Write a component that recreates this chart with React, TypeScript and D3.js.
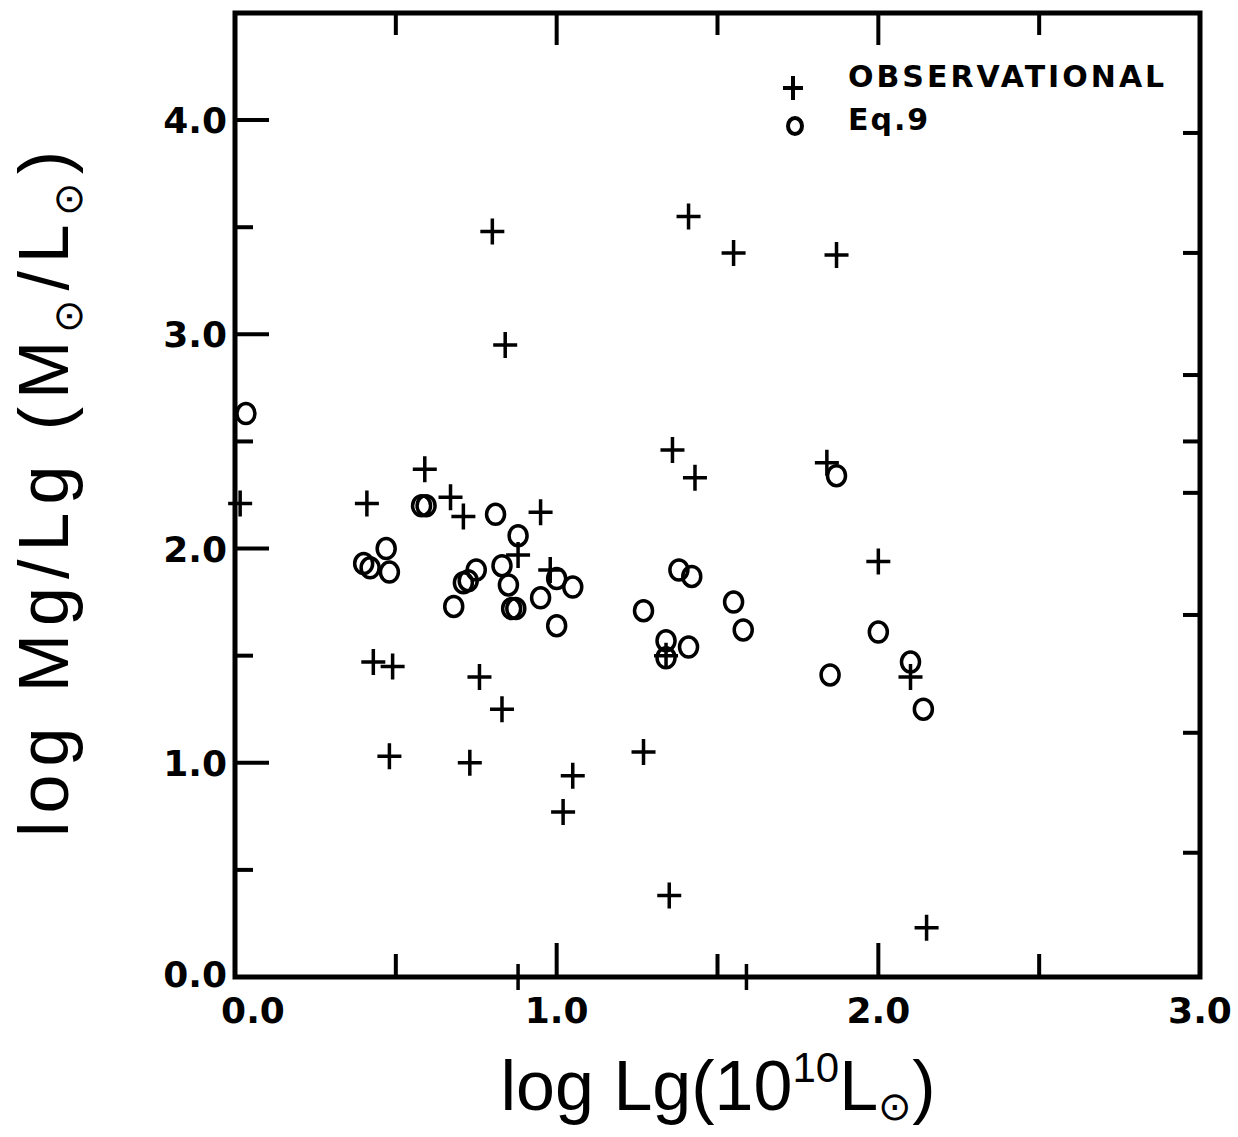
import React from "react";
import * as d3 from "d3";

// Observational points (log Lg, log Mg/Lg)
const obsX = [0.016, 0.41, 0.59, 0.67, 0.71, 0.95, 0.88, 0.98, 0.43, 0.49, 0.76, 0.83, 0.48, 0.73, 1.05, 1.02, 1.27, 1.35, 0.80, 0.84, 1.41, 1.55, 1.87, 1.36, 1.43, 1.84, 2.0, 1.34, 2.1, 2.15, 0.88, 1.59];
const obsY = [2.21, 2.21, 2.37, 2.24, 2.15, 2.17, 1.97, 1.9, 1.47, 1.45, 1.4, 1.25, 1.03, 1.0, 0.94, 0.77, 1.05, 0.38, 3.48, 2.95, 3.55, 3.38, 3.37, 2.46, 2.33, 2.4, 1.94, 1.5, 1.4, 0.23, 0.0, 0.0];

// Eq. 9 points
const eqX = [0.034, 0.58, 0.594, 0.4, 0.42, 0.47, 0.48, 0.81, 0.88, 0.75, 0.71, 0.725, 0.83, 0.85, 0.86, 0.873, 0.68, 0.95, 1.0, 1.05, 1.0, 1.27, 1.38, 1.42, 1.34, 1.41, 1.55, 1.58, 2.0, 1.85, 2.1, 2.14, 1.87, 1.34];
const eqY = [2.63, 2.2, 2.2, 1.93, 1.91, 2.0, 1.89, 2.16, 2.06, 1.9, 1.84, 1.85, 1.92, 1.83, 1.72, 1.72, 1.73, 1.77, 1.86, 1.82, 1.64, 1.71, 1.9, 1.87, 1.57, 1.54, 1.75, 1.62, 1.61, 1.41, 1.47, 1.25, 2.34, 1.49];

const xMajor = [0, 1, 2, 3];
const xMajorLabels = ["0.0", "1.0", "2.0", "3.0"];
const xMinor = [0.5, 1.5, 2.5];
const yMajor = [0, 1, 2, 3, 4];
const yMajorLabels = ["0.0", "1.0", "2.0", "3.0", "4.0"];
const yMinor = [0.5, 1.5, 2.5, 3.5];
const rightTicks = [0.58, 1.14, 1.69, 2.26, 2.5, 2.81, 3.38, 3.94];

const legendLabels = ["OBSERVATIONAL", "Eq.9"];

export default function App() {
  const x = d3.scaleLinear().domain([0, 3]).range([235, 1200]);
  const y = d3.scaleLinear().domain([0, 4.5]).range([977, 13]);
  const x0 = x(0), x1 = x(3), y0 = y(0), y1 = y(4.5);
  const plus = (cx: number, cy: number, h = 12, v = 13) =>
    `M${cx - h},${cy}H${cx + h}M${cx},${cy - v}V${cy + v}`;
  const tickFont = "'DejaVu Sans', sans-serif";
  const labelFont = "'Liberation Sans', Arial, sans-serif";

  return (
    <svg
      width={1238}
      height={1137}
      style={{ position: "absolute", left: 0, top: 0, background: "#fff" }}
    >
      <rect x={0} y={0} width={1238} height={1137} fill="#fff" />
      {/* frame */}
      <rect x={x0} y={y1} width={x1 - x0} height={y0 - y1} fill="none" stroke="#000" strokeWidth={5} />

      {/* bottom ticks */}
      {xMajor.slice(1, 3).map((v) => (
        <line key={"bx" + v} x1={x(v)} x2={x(v)} y1={y0} y2={y0 - 34} stroke="#000" strokeWidth={4} />
      ))}
      {xMinor.map((v) => (
        <line key={"bxm" + v} x1={x(v)} x2={x(v)} y1={y0} y2={y0 - 23} stroke="#000" strokeWidth={4} />
      ))}
      {/* top ticks */}
      {xMajor.slice(1, 3).map((v) => (
        <line key={"tx" + v} x1={x(v)} x2={x(v)} y1={y1} y2={y1 + 32} stroke="#000" strokeWidth={4} />
      ))}
      {xMinor.map((v) => (
        <line key={"txm" + v} x1={x(v)} x2={x(v)} y1={y1} y2={y1 + 22} stroke="#000" strokeWidth={4} />
      ))}
      {/* left ticks */}
      {yMajor.slice(1).map((v) => (
        <line key={"ly" + v} x1={x0} x2={x0 + 34} y1={y(v)} y2={y(v)} stroke="#000" strokeWidth={4} />
      ))}
      {yMinor.map((v) => (
        <line key={"lym" + v} x1={x0} x2={x0 + 18} y1={y(v)} y2={y(v)} stroke="#000" strokeWidth={4} />
      ))}
      {/* right ticks */}
      {rightTicks.map((v) => (
        <line key={"ry" + v} x1={x1} x2={x1 - 17} y1={y(v)} y2={y(v)} stroke="#000" strokeWidth={4} />
      ))}

      {/* tick labels */}
      {yMajor.map((v, i) => (
        <text
          key={"yl" + v}
          x={227}
          y={y(v) + (v === 0 ? 10 : 13)}
          textAnchor="end"
          fontFamily={tickFont}
          fontWeight="bold"
          fontSize={36}
        >
          {yMajorLabels[i]}
        </text>
      ))}
      {xMajor.map((v, i) => (
        <text
          key={"xl" + v}
          x={x(v) + (v === 0 ? 18 : 0)}
          y={1023}
          textAnchor="middle"
          fontFamily={tickFont}
          fontWeight="bold"
          fontSize={36}
        >
          {xMajorLabels[i]}
        </text>
      ))}

      {/* axis titles */}
      <text
        transform={`translate(68, 490) rotate(-90)`}
        textAnchor="middle"
        fontFamily={labelFont}
        fontSize={70}
        letterSpacing={8}
      >
        log Mg/Lg (M<tspan fontSize={40} dy={14}>⊙</tspan>
        <tspan dy={-14}>/L</tspan>
        <tspan fontSize={40} dy={14}>⊙</tspan>
        <tspan dy={-14}>)</tspan>
      </text>
      <text
        x={718}
        y={1110}
        textAnchor="middle"
        fontFamily={labelFont}
        fontSize={70}
      >
        log Lg(10<tspan fontSize={42} dy={-28}>10</tspan>
        <tspan dy={28}>L</tspan>
        <tspan fontSize={40} dy={10}>⊙</tspan>
        <tspan dy={-10}>)</tspan>
      </text>

      {/* legend */}
      <path d={plus(793, 88, 10, 12)} stroke="#000" strokeWidth={4} fill="none" />
      <ellipse cx={795} cy={126} rx={7} ry={8} fill="none" stroke="#000" strokeWidth={4} />
      <text x={848} y={87} fontFamily={tickFont} fontWeight="bold" fontSize={30} letterSpacing={3}>
        {legendLabels[0]}
      </text>
      <text x={848} y={130} fontFamily={tickFont} fontWeight="bold" fontSize={30} letterSpacing={2}>
        {legendLabels[1]}
      </text>

      {/* Eq.9 circles */}
      {eqX.map((v, i) => (
        <ellipse
          key={"e" + i}
          cx={x(v)}
          cy={y(eqY[i])}
          rx={9}
          ry={10}
          fill="none"
          stroke="#000"
          strokeWidth={3.5}
        />
      ))}
      {/* observational pluses */}
      {obsX.map((v, i) => (
        <path
          key={"o" + i}
          d={plus(x(v), y(obsY[i]))}
          stroke="#000"
          strokeWidth={3.5}
          fill="none"
        />
      ))}
    </svg>
  );
}
